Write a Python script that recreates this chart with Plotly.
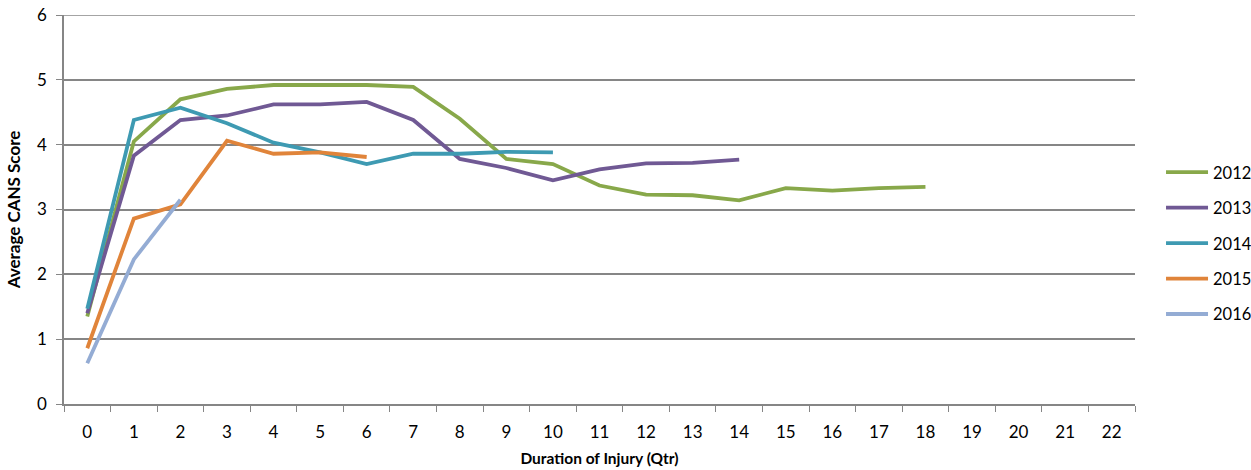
import plotly.graph_objects as go

quarters = [str(i) for i in range(23)]

years = ["2012", "2013", "2014", "2015", "2016"]
s2012 = [1.35, 4.05, 4.70, 4.86, 4.92, 4.92, 4.92, 4.89, 4.40, 3.78, 3.70, 3.37, 3.23, 3.22, 3.14, 3.33, 3.29, 3.33, 3.35]
s2013 = [1.40, 3.83, 4.38, 4.45, 4.62, 4.62, 4.66, 4.38, 3.78, 3.64, 3.45, 3.62, 3.71, 3.72, 3.77]
s2014 = [1.47, 4.38, 4.57, 4.33, 4.03, 3.88, 3.70, 3.86, 3.86, 3.89, 3.88]
s2015 = [0.86, 2.86, 3.08, 4.06, 3.86, 3.88, 3.81]
s2016 = [0.63, 2.23, 3.15]
series = [s2012, s2013, s2014, s2015, s2016]
colors = ["#88A84A", "#705994", "#3E9AB2", "#E0843A", "#94ACD4"]

font_family = "Lato, 'Open Sans', sans-serif"
grid_col = "#868686"

fig = go.Figure()
for name, vals, col in zip(years, series, colors):
    fig.add_trace(go.Scatter(
        x=quarters[:len(vals)], y=vals, name=name, mode="lines",
        line=dict(color=col, width=3.8), legendgroup=name,
    ))

# top gridline at y = 6 (plot edge)
fig.add_shape(type="line", xref="paper", yref="y", x0=0, x1=1, y0=6, y1=6,
              line=dict(color=grid_col, width=1.5), layer="below")

fig.update_layout(
    width=1251, height=470,
    margin=dict(l=64, r=116, t=15, b=66, autoexpand=False),
    paper_bgcolor="white", plot_bgcolor="white",
    font=dict(family=font_family, size=17, color="#000000"),
    legend=dict(x=1.0243, y=0.4126, xanchor="left", yanchor="middle",
                font=dict(size=16.5), tracegroupgap=11, itemwidth=42,
                bgcolor="rgba(0,0,0,0)"),
    xaxis=dict(
        type="category", categoryorder="array", categoryarray=quarters,
        range=[-0.5, 22.5], tickson="boundaries", ticks="outside", ticklen=6,
        tickcolor=grid_col, showline=True, linecolor=grid_col, linewidth=1.5,
        showgrid=False, zeroline=False, tickfont=dict(size=17),
        ticklabelstandoff=12, automargin=False,
        title=dict(text="<b>Duration of Injury (Qtr)</b>", font=dict(size=15.5), standoff=12),
    ),
    yaxis=dict(
        range=[0, 6], dtick=1, tick0=0, ticks="outside", ticklen=6,
        tickcolor=grid_col, showline=True, linecolor=grid_col, linewidth=1.5,
        showgrid=True, gridcolor=grid_col, gridwidth=1.5, zeroline=False,
        tickfont=dict(size=17), ticklabelstandoff=6, automargin=False,
        title=dict(text="<b>Average CANS Score</b>", font=dict(size=17), standoff=12),
    ),
)

fig.write_html(
    "out.html",
    config={"displayModeBar": False},
    post_script="document.body.style.margin='0';document.body.style.padding='0';document.body.style.overflow='hidden';",
)
